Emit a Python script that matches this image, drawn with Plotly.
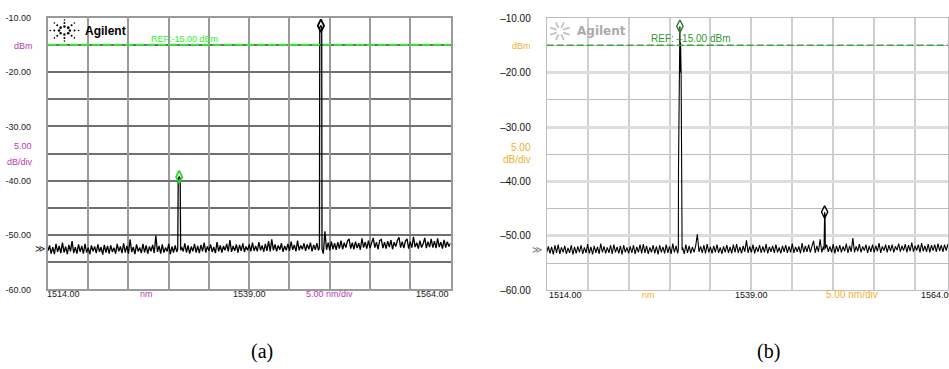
import math
import plotly.graph_objects as go

# ---------------- data ----------------
WL_START = 1514.0
WL_STEP = 0.2

noise_a = [
    -52.9, -51.9, -53.4, -52.2, -53.5, -51.6, -53.1, -52.0, -53.3, -51.4,
    -53.2, -52.1, -53.5, -51.8, -53.0, -51.1, -53.3, -52.2, -53.4, -51.7,
    -53.1, -52.0, -53.4, -51.6, -53.2, -52.3, -53.5, -51.9, -53.0, -52.1,
    -53.3, -51.7, -53.1, -52.2, -53.6, -51.8, -53.2, -52.0, -53.4, -51.9,
    -53.1, -52.3, -53.4, -51.6, -53.0, -52.1, -53.3, -51.5, -53.2, -52.0,
    -53.4, -50.8, -53.1, -52.2, -53.5, -51.7, -53.0, -52.3, -53.3, -51.6,
    -53.2, -51.9, -53.4, -52.1, -53.0, -51.8, -53.3, -50.1, -53.1, -52.0,
    -53.4, -51.7, -53.2, -52.3, -53.0, -51.6, -53.5, -52.1, -53.2, -51.9,
    -53.1, -52.0, -53.3, -52.2, -53.0, -51.5, -53.2, -51.9, -53.4, -52.1,
    -53.0, -51.6, -53.2, -52.0, -53.3, -51.8, -53.0, -51.4, -53.2, -52.1,
    -52.9, -51.7, -53.1, -52.2, -53.3, -51.3, -53.0, -51.9, -53.2, -52.0,
    -52.8, -51.6, -53.0, -50.9, -53.1, -52.0, -52.9, -51.7, -53.2, -51.8,
    -52.9, -51.5, -53.1, -52.1, -52.8, -51.7, -53.0, -51.4, -52.9, -52.0,
    -53.0, -51.3, -52.8, -51.9, -53.1, -51.6, -52.9, -51.1, -53.0, -50.8,
    -52.8, -51.7, -53.0, -51.9, -52.7, -51.5, -53.1, -52.0, -52.8, -51.6,
    -52.9, -51.2, -52.7, -51.8, -53.0, -51.0, -52.8, -51.9, -52.6, -51.5,
    -52.9, -51.7, -52.6, -51.4, -53.0, -51.8, -52.7, -51.5, -52.8, -51.9,
    -52.6, -53.4, -49.3, -52.7, -51.4, -52.8, -51.2, -52.6, -51.5, -52.7,
    -51.3, -52.5, -51.0, -52.6, -51.4, -52.3, -51.1, -50.7, -52.5, -51.4,
    -52.6, -51.2, -52.4, -51.5, -52.7, -50.6, -52.3, -51.3, -52.5, -51.0,
    -52.4, -51.2, -50.5, -52.3, -51.3, -52.6, -51.0, -50.8, -52.4, -51.3,
    -52.5, -51.1, -52.2, -50.9, -52.6, -51.3, -52.1, -51.0, -50.4, -52.3,
    -51.2, -52.4, -51.1, -50.7, -52.5, -51.2, -52.3, -50.3, -52.2, -51.4,
    -52.5, -51.0, -52.3, -51.6, -50.5, -52.4, -51.2, -52.2, -50.7, -52.3,
    -51.1, -52.4, -50.6, -52.2, -51.3, -52.5, -50.9, -52.3, -51.2, -52.1,
    -51.5,
]

noise_b = [
    -53.0, -51.9, -53.2, -52.0, -53.4, -51.7, -53.1, -51.6, -53.3, -52.1,
    -53.0, -51.8, -53.3, -52.2, -53.1, -51.7, -53.4, -52.0, -53.2, -51.9,
    -53.0, -51.7, -53.3, -52.1, -53.1, -51.5, -53.2, -52.0, -53.4, -51.8,
    -53.1, -52.0, -53.3, -51.4, -53.0, -51.9, -53.2, -52.1, -53.1, -51.7,
    -53.3, -51.6, -53.0, -52.0, -53.2, -51.8, -53.4, -51.7, -53.0, -52.1,
    -53.2, -51.9, -53.1, -51.7, -53.3, -52.0, -53.0, -51.6, -53.2, -51.5,
    -53.1, -51.8, -53.3, -52.1, -53.0, -51.7, -53.2, -51.9, -53.4, -51.7,
    -53.0, -52.0, -53.2, -51.6, -53.1, -51.9, -53.3, -51.4, -53.0, -51.8,
    -53.2, -51.9, -53.0, -52.1, -53.3, -51.6, -53.1, -51.8, -53.2, -52.0,
    -53.0, -51.8, -49.7, -52.9, -51.9, -53.1, -51.7, -53.2, -51.5, -53.0,
    -52.0, -53.2, -51.8, -53.0, -51.6, -53.1, -52.1, -53.3, -51.9, -53.0,
    -51.7, -53.1, -52.0, -53.2, -51.6, -53.0, -51.5, -53.1, -52.0, -53.2,
    -51.8, -52.9, -50.8, -53.1, -51.9, -53.0, -51.6, -53.2, -52.0, -52.9,
    -51.7, -53.1, -51.9, -53.0, -51.5, -53.2, -52.0, -52.9, -51.8, -53.1,
    -51.6, -53.0, -52.1, -53.2, -51.8, -52.9, -51.7, -53.1, -51.9, -53.0,
    -51.4, -53.1, -52.0, -52.9, -51.9, -53.2, -51.3, -53.0, -51.8, -52.9,
    -51.6, -53.0, -51.9, -50.9, -53.1, -51.8, -52.9, -50.6, -53.0, -51.9,
    -53.1, -51.6, -52.9, -51.9, -53.0, -51.5, -53.2, -51.8, -52.9, -51.7,
    -53.0, -51.9, -52.8, -51.4, -53.1, -51.8, -52.9, -50.4, -53.0, -51.9,
    -52.8, -51.5, -53.0, -51.9, -52.7, -51.6, -53.1, -51.8, -52.9, -51.6,
    -53.0, -51.8, -52.8, -51.3, -53.1, -51.9, -52.7, -51.6, -53.0, -51.7,
    -52.8, -51.6, -53.0, -51.9, -52.6, -51.4, -52.9, -51.8, -52.7, -51.5,
    -53.0, -51.7, -52.8, -51.2, -52.9, -51.8, -52.7, -51.6, -53.0, -51.3,
    -52.8, -51.8, -52.9, -51.5, -53.0, -51.7, -52.7, -51.6, -52.9, -51.4,
    -52.8, -51.7, -52.9, -51.6, -52.7, -51.5, -53.0, -51.8, -52.6, -51.5,
    -52.0,
]

# laser lines (wavelength nm, power dBm)
peak_a1_x = [1530.12, 1530.18, 1530.30, 1530.42, 1530.48]
peak_a1_y = [-52.6, -39.6, -39.3, -39.6, -52.8]
peak_a2_x = [1547.72, 1547.76, 1547.90, 1548.00, 1548.04]
peak_a2_y = [-52.3, -11.8, -11.5, -11.8, -52.6]
peak_b1_x = [1530.08, 1530.10, 1530.27, 1530.31, 1530.35, 1530.42, 1530.50, 1530.54]
peak_b1_y = [-52.5, -37.5, -11.5, -20.0, -14.5, -20.0, -43.0, -52.6]
peak_b2_x = [1547.88, 1547.92, 1547.95, 1548.00, 1548.04]
peak_b2_y = [-52.6, -45.8, -45.6, -46.0, -52.3]

marker_a_x = [1530.30, 1547.90]
marker_a_y = [-39.3, -11.5]
marker_b_x = [1530.27, 1547.95]
marker_b_y = [-11.5, -45.6]

ref_level = -15.0
noise_ref_level = -52.4

x_range = [1514.0, 1564.0]
x_tick_vals = [1514.0, 1539.0, 1564.0]
x_tick_text = ["1514.00", "1539.00", "1564.00"]
y_major_vals = [-10, -20, -30, -40, -50, -60]
y_minor_vals = [-15, -25, -35, -45, -55]
y_tick_text_a = ["-10.00", "-20.00", "-30.00", "-40.00", "-50.00", "-60.00"]
y_tick_text_b = ["\u201310.00", "\u201320.00", "\u201330.00", "\u201340.00", "\u201350.00", "\u201360.00"]


def merge(noise, peaks):
    xs = [WL_START + WL_STEP * i for i in range(len(noise))]
    pts = []
    for x, y in zip(xs, noise):
        if any(min(px) <= x <= max(px) for px, _ in peaks):
            continue
        pts.append((x, y))
    for px, py in peaks:
        pts.extend(zip(px, py))
    pts.sort()
    return [p[0] for p in pts], [p[1] for p in pts]


ax_x, ax_y = merge(noise_a, [(peak_a1_x, peak_a1_y), (peak_a2_x, peak_a2_y)])
bx_x, bx_y = merge(noise_b, [(peak_b1_x, peak_b1_y), (peak_b2_x, peak_b2_y)])

# ---------------- geometry ----------------
W, H = 949, 369
A_L, A_R, TOP, A_B = 48, 451, 12, 293
B_L, B_R, B_B = 547.3, 957.0, 294
b_span = (x_range[1] - x_range[0]) * (W - B_L) / (B_R - B_L)
b_range = [x_range[0], x_range[0] + b_span]


def px(x):
    return x / W


def py(y):
    return 1 - y / H


SANS = "Liberation Sans, Arial, sans-serif"
MAG = "#b43cb4"
ORA = "#eeb030"

fig = go.Figure()

fig.add_trace(go.Scatter(x=ax_x, y=ax_y, mode="lines", line=dict(color="black", width=1.3),
                         xaxis="x", yaxis="y", showlegend=False))
fig.add_trace(go.Scatter(x=marker_a_x, y=marker_a_y, mode="markers", xaxis="x", yaxis="y",
                         marker=dict(symbol="diamond-tall-open", size=9,
                                     color=["#22dd22", "black"], line=dict(width=1.8)),
                         cliponaxis=False, showlegend=False))
fig.add_trace(go.Scatter(x=bx_x, y=bx_y, mode="lines", line=dict(color="black", width=1.1),
                         xaxis="x2", yaxis="y2", showlegend=False))
fig.add_trace(go.Scatter(x=marker_b_x, y=marker_b_y, mode="markers", xaxis="x2", yaxis="y2",
                         marker=dict(symbol="diamond-tall-open", size=9,
                                     color=["#2a7a2a", "black"], line=dict(width=1.4)),
                         cliponaxis=False, showlegend=False))

common_x = dict(showticklabels=False, ticks="", zeroline=False, showgrid=True,
                tick0=1514, dtick=5, mirror=True, showline=True)

fig.update_layout(
    width=W, height=H, margin=dict(l=0, r=0, t=0, b=0),
    paper_bgcolor="white", plot_bgcolor="white", showlegend=False,
    xaxis=dict(domain=[px(A_L), px(A_R)], range=x_range, gridcolor="#9a9a9a", gridwidth=2,
               linecolor="#9a9a9a", linewidth=2, anchor="y", **common_x),
    yaxis=dict(domain=[py(A_B), py(TOP)], range=[-60, -10], anchor="x",
               tickmode="array", tickvals=y_major_vals, ticktext=y_tick_text_a,
               ticks="", ticklabelstandoff=13, zeroline=False,
               tickfont=dict(family=SANS, size=9, color="#222"),
               showgrid=True, gridcolor="#707070", gridwidth=1.5,
               minor=dict(tickvals=y_minor_vals, showgrid=True, gridcolor="#707070", gridwidth=1.5),
               showline=True, mirror=True, linecolor="#9a9a9a", linewidth=2),
    xaxis2=dict(domain=[px(B_L), 1.0], range=b_range, gridcolor="#cfcfcf", gridwidth=2,
                linecolor="#bdbdbd", linewidth=1, anchor="y2", **common_x),
    yaxis2=dict(domain=[py(B_B), py(TOP + 0.5)], range=[-60, -10], anchor="x2",
                tickmode="array", tickvals=y_major_vals, ticktext=y_tick_text_b,
                ticks="", ticklabelstandoff=13, zeroline=False,
                tickfont=dict(family=SANS, size=10, color="#111"),
                showgrid=True, gridcolor="#dddddd", gridwidth=3,
                minor=dict(tickvals=y_minor_vals, showgrid=True, gridcolor="#bdbdbd", gridwidth=1),
                showline=True, mirror=True, linecolor="#bdbdbd", linewidth=1),
)

# reference lines
fig.add_shape(type="line", xref="x", yref="y", x0=x_range[0], x1=x_range[1], y0=ref_level, y1=ref_level,
              line=dict(color="#33ee33", width=2, dash="8px,3px"))
fig.add_shape(type="line", xref="x2", yref="y2", x0=b_range[0], x1=b_range[1], y0=ref_level, y1=ref_level,
              line=dict(color="#33a833", width=1.5, dash="7px,3px"))

ann = []


def text(x, y, s, size=9, color="black", xanchor="center", xref="paper", yref="paper",
         family=SANS, yanchor="middle", xshift=0):
    ann.append(dict(x=x, y=y, text=s, xref=xref, yref=yref, showarrow=False,
                    xanchor=xanchor, yanchor=yanchor, xshift=xshift,
                    font=dict(family=family, size=size, color=color)))


# panel (a) labels
ya_lab = py(298)
text(x_tick_vals[0], ya_lab, x_tick_text[0], xref="x", xanchor="left", color="#222", xshift=-3)
text(x_tick_vals[1], ya_lab, x_tick_text[1], xref="x", color="#222")
text(x_tick_vals[2], ya_lab, x_tick_text[2], xref="x", xanchor="right", color="#222")
text(1526.3, ya_lab, "nm", xref="x", color=MAG)
text(1549.0, ya_lab, "5.00 nm/div", xref="x", color=MAG)
text(px(35), py(41), "dBm", xanchor="right", color=MAG)
text(px(34), py(145), "5.00", xanchor="right", color=MAG)
text(px(35), py(161), "dB/div", xanchor="right", color=MAG)
text(px(47), noise_ref_level, "\u226b", yref="y", xanchor="right", color="#222", size=10)
text(1531.0, py(34), "REF:-15.00 dBm", xref="x", color="#33ee33", size=9)
text(px(106), py(25.7), "<b>Agilent</b>", size=12, color="black")

# panel (b) labels
yb_lab = py(298.5)
text(x_tick_vals[0], yb_lab, x_tick_text[0], xref="x2", xanchor="left", color="#111")
text(x_tick_vals[1], yb_lab, x_tick_text[1], xref="x2", color="#111")
text(px(B_R), yb_lab, x_tick_text[2], xanchor="right", color="#111")
text(1526.4, yb_lab, "nm", xref="x2", color=ORA)
text(1551.3, yb_lab, "5.00 nm/div", xref="x2", color=ORA, size=10)
text(px(534), py(41), "dBm", xanchor="right", color=ORA)
text(px(534), py(146.5), "5.00", xanchor="right", color=ORA, size=10)
text(px(534), py(158.5), "dB/div", xanchor="right", color=ORA, size=10)
text(px(545), noise_ref_level, "\u226b", yref="y2", xanchor="right", color="#777", size=10)
text(1531.6, py(34), "REF: \u201315.00 dBm", xref="x2", color="#2f9a2f", size=10)
text(px(602.5), py(26), "<b>Agilent</b>", size=12, color="#aaaaaa", family="DejaVu Sans")

# captions
text(px(262), py(357), "(a)", size=20, family="Liberation Serif, Times New Roman, serif")
text(px(769), py(357), "(b)", size=20, family="Liberation Serif, Times New Roman, serif")

fig.update_layout(annotations=ann)

# Agilent spark logos (decoration)
shapes = []
cxa, cya = px(64.5), py(25.3)
for k in range(8):
    ang = k * math.pi / 4
    for r, s in ((4.0, 1.3), (7.5, 1.0), (10.5, 0.8)):
        dx, dy = r * 1.35 * math.cos(ang), r * math.sin(ang)
        shapes.append(dict(type="circle", xref="paper", yref="paper", xsizemode="pixel",
                           ysizemode="pixel", xanchor=cxa, yanchor=cya,
                           x0=dx - s, x1=dx + s, y0=dy - s, y1=dy + s,
                           fillcolor="black", line=dict(width=0)))
cxb, cyb = px(560.5), py(26)
for k in range(8):
    ang = k * math.pi / 4 + math.pi / 8
    shapes.append(dict(type="line", xref="paper", yref="paper", xsizemode="pixel",
                       ysizemode="pixel", xanchor=cxb, yanchor=cyb,
                       x0=3.5 * math.cos(ang), x1=10.5 * math.cos(ang),
                       y0=3.5 * math.sin(ang), y1=9.5 * math.sin(ang),
                       line=dict(color="#bbbbbb", width=1.5)))
for sh in shapes:
    fig.add_shape(**sh)

fig.write_html("out.html")
